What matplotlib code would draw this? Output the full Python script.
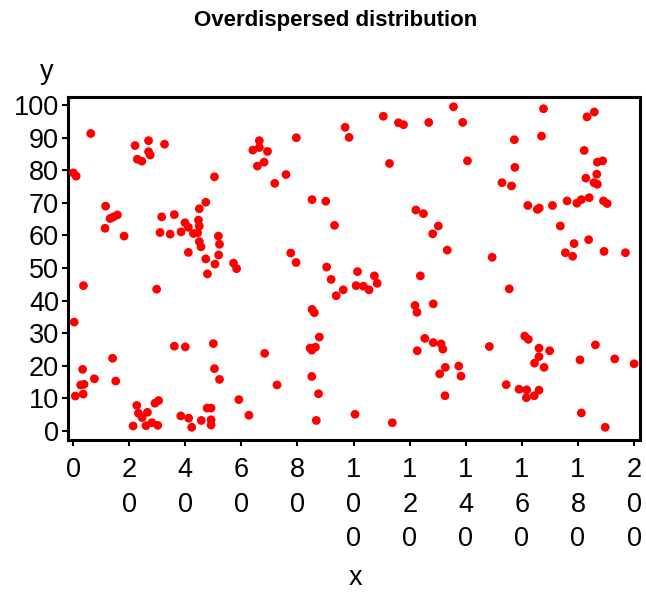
import matplotlib.pyplot as plt

# point coordinates (x, y) for the clumped pattern
xs = [6.3, 0.1, 1.1, 22.1, 26.9, 32.6, 26.9, 27.5, 22.9, 24.5, 50.4, 11.6, 13.2, 14.4,
      15.8, 11.4, 18.2, 31.6, 36.1, 31.0, 34.6, 38.5, 39.9, 41.1, 42.9, 45.0, 47.3, 44.7,
      45.0, 44.4, 45.0, 45.6, 41.1, 47.3, 50.6, 51.8, 52.2, 51.9, 57.2, 58.3,
      66.4, 64.1, 66.4, 69.3, 65.7, 68.1, 110.6, 116.0, 117.8, 126.8, 97.0, 98.4, 79.6,
      112.8, 75.9, 71.9, 85.2, 90.1, 93.2, 122.2, 124.9, 130.2, 128.2, 133.4, 77.6, 79.5,
      90.4,
      135.6, 138.9, 167.7, 183.2, 185.8, 157.3, 167.0, 140.6, 182.2, 186.9, 188.8, 157.5,
      186.7, 182.8, 185.7, 186.9, 152.9, 156.3, 162.1, 165.5, 166.2, 170.9, 176.1, 179.6,
      181.2, 184.0, 189.1, 190.4, 173.7, 183.8, 178.6, 149.4, 175.5, 178.1, 189.3, 196.9,
      47.9, 3.7, 29.8, 0.4, 36.1, 40.0, 50.0, 14.1, 3.4, 7.6, 15.2, 2.7, 3.9, 50.4, 52.2,
      0.8, 3.6, 22.7, 23.3, 24.6, 26.5, 29.2, 30.5, 21.4, 26.0, 28.1, 30.2, 38.4, 41.2,
      42.3, 45.7, 47.8, 49.2, 49.2, 49.2, 59.1, 62.7,
      92.0, 93.8, 96.3, 101.4, 100.9, 103.5, 105.5, 107.4, 108.4, 85.2, 86.0, 87.8, 84.5,
      86.4, 85.1, 68.3, 85.1, 72.7, 87.5, 86.7, 100.5, 113.8, 123.8, 121.9, 122.6, 128.4,
      125.4, 122.7, 128.4, 131.2, 131.8, 132.7, 130.7, 132.6,
      155.5, 137.5, 138.3, 148.4, 161.0, 162.3, 166.1, 169.9, 166.1, 164.5, 167.9, 154.4,
      159.0, 161.7, 166.1, 164.4, 161.6, 180.7, 186.2, 193.1, 200.0, 181.2, 189.7]
ys = [91.3, 79.2, 78.2, 87.6, 89.1, 88.0, 85.7, 84.7, 83.4, 82.8, 78.0, 69.0, 65.2, 65.7,
      66.3, 62.2, 59.8, 65.7, 66.4, 60.9, 60.4, 61.1, 63.9, 62.5, 60.6, 68.2, 70.2, 64.7,
      62.9, 60.8, 58.1, 56.5, 54.8, 52.8, 51.2, 59.8, 57.3, 54.0, 51.5, 49.8,
      89.1, 86.2, 87.0, 85.8, 81.3, 82.5, 96.6, 94.6, 94.0, 94.7, 93.2, 90.1, 90.0,
      82.1, 78.7, 76.0, 71.0, 70.5, 63.1, 67.8, 66.7, 62.9, 60.5, 55.5, 54.6, 51.7,
      50.3,
      99.5, 94.7, 98.9, 96.4, 97.9, 89.4, 90.5, 82.9, 86.1, 82.5, 82.9, 80.9,
      78.8, 77.6, 76.2, 75.7, 76.2, 75.2, 69.2, 68.0, 68.4, 69.2, 70.6, 69.9,
      71.0, 71.6, 70.6, 69.8, 62.9, 58.7, 57.5, 53.3, 54.7, 53.6, 55.1, 54.7,
      48.2, 44.6, 43.5, 33.4, 26.0, 25.8, 26.8, 22.3, 18.9, 16.0, 15.3, 14.1, 14.3, 19.1, 15.8,
      10.7, 11.3, 7.8, 5.4, 4.1, 5.7, 8.5, 9.3, 1.5, 1.6, 2.5, 1.7, 4.6, 3.9,
      1.1, 3.2, 7.0, 7.0, 3.4, 1.8, 9.6, 4.8,
      46.5, 41.5, 43.3, 48.9, 44.6, 44.4, 43.3, 47.6, 45.3, 37.3, 36.3, 28.8, 25.4,
      25.7, 24.8, 23.8, 16.7, 14.1, 11.4, 3.2, 5.1, 2.5, 47.6, 38.5, 36.4, 39.0,
      28.4, 24.6, 27.1, 26.7, 25.1, 19.5, 17.5, 10.8,
      43.6, 19.9, 16.8, 25.9, 29.1, 28.1, 25.4, 24.6, 22.8, 20.8, 19.5, 14.2,
      12.8, 12.6, 12.5, 10.8, 10.2, 21.8, 26.4, 22.1, 20.6, 5.5, 1.1]

x_ticks = list(range(0, 201, 20))
y_ticks = list(range(0, 101, 10))

plt.rcParams["font.family"] = ["Liberation Sans", "DejaVu Sans"]

fig = plt.figure(figsize=(6.46, 5.93), dpi=100)
ax = fig.add_axes([0.1053, 0.258, 0.8854, 0.5784])

ax.scatter(xs, ys, s=40, color="#ff0000", edgecolors="none", zorder=3)

ax.set_xlim(-1.8, 202.1)
ax.set_ylim(-2.8, 102.5)

# x tick labels are written one digit per line
ax.set_xticks(x_ticks)
ax.set_xticklabels(["\n".join(str(v)) for v in x_ticks], fontsize=19.5, linespacing=1.42)
ax.set_yticks(y_ticks)
ax.set_yticklabels([str(v) for v in y_ticks], fontsize=19.5)

for sp in ax.spines.values():
    sp.set_linewidth(2.2)
ax.tick_params(axis="both", length=4.5, width=1.5)
ax.tick_params(axis="x", pad=8)
ax.tick_params(axis="y", pad=2)

ax.set_xlabel("x", fontsize=19.5, va="center")
ax.xaxis.set_label_coords(0.502, -0.402)
ax.set_ylabel("y", fontsize=19.5, rotation=0, va="center", ha="center")
ax.yaxis.set_label_coords(-0.037, 1.073)

fig.text(0.52, 0.966, "Overdispersed distribution", fontsize=16, fontweight="bold",
         ha="center", va="center")

fig.savefig("out.png", dpi=100)
